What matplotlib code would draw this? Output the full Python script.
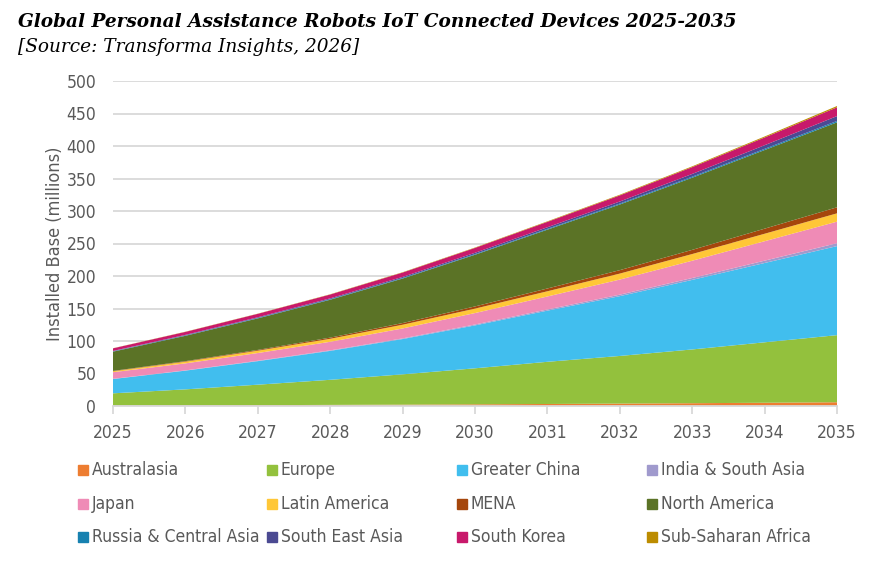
import numpy as np
import matplotlib.pyplot as plt
from matplotlib.patches import Rectangle

years = np.arange(2025, 2036)

australasia = [0.8, 1.0, 1.3, 1.7, 2.1, 2.6, 3.1, 3.7, 4.3, 5.0, 5.8]
europe = [18.7, 24.6, 31.5, 38.6, 46.6, 55.4, 64.9, 73.3, 82.7, 93.0, 103.2]
greater_china = [22.0, 28.8, 36.2, 44.5, 54.3, 66.0, 78.7, 92.0, 107.0, 122.0, 137.0]
india_south_asia = [0.3, 0.4, 0.6, 0.8, 1.0, 1.4, 1.8, 2.3, 2.9, 3.6, 4.5]
japan = [10.2, 10.8, 11.9, 13.2, 15.3, 17.6, 20.0, 23.2, 26.6, 29.9, 33.1]
latin_america = [1.5, 2.6, 3.6, 4.6, 5.7, 6.8, 8.0, 9.2, 10.3, 11.5, 12.8]
mena = [0.5, 0.8, 1.2, 1.8, 2.6, 3.4, 4.3, 5.3, 6.4, 7.8, 9.3]
north_america = [29.6, 39.0, 48.5, 58.3, 68.5, 79.5, 90.5, 101.0, 111.0, 121.0, 130.7]
russia_central_asia = [0.5, 0.6, 0.7, 0.8, 0.9, 1.0, 1.2, 1.4, 1.6, 1.8, 2.1]
south_east_asia = [0.6, 0.8, 1.0, 1.3, 1.6, 2.0, 2.5, 3.2, 4.2, 5.6, 7.5]
south_korea = [4.0, 4.6, 5.3, 5.9, 6.7, 7.5, 8.3, 9.4, 10.5, 11.9, 13.5]
sub_saharan_africa = [0.2, 0.3, 0.3, 0.4, 0.5, 0.6, 0.8, 1.0, 1.2, 1.5, 2.0]

labels = ["Australasia", "Europe", "Greater China", "India & South Asia",
          "Japan", "Latin America", "MENA", "North America",
          "Russia & Central Asia", "South East Asia", "South Korea",
          "Sub-Saharan Africa"]
series = [australasia, europe, greater_china, india_south_asia, japan,
          latin_america, mena, north_america, russia_central_asia,
          south_east_asia, south_korea, sub_saharan_africa]
colors = ["#ED7D31", "#93C13D", "#41BEEE", "#A09ACD", "#EF8BB6", "#FFC737",
          "#A5460C", "#5B7326", "#1781B0", "#4B4A92", "#C8196B", "#BC8C00"]

W, H = 874, 562
grey = "#595959"
font = "DejaVu Sans"

fig = plt.figure(figsize=(W / 100, H / 100), dpi=100)
ax = fig.add_axes([113 / W, 1 - 406 / H, (837 - 113) / W, (406 - 81) / H])

ax.stackplot(years, *series, colors=colors, linewidth=0)

ax.set_xlim(2025, 2035)
ax.set_ylim(0, 500)
ax.set_xticks(years)
ax.set_yticks(np.arange(0, 501, 50))
ax.grid(axis="y", color="#D9D9D9", linewidth=1.3)
ax.set_axisbelow(True)
for s in ["top", "right", "left"]:
    ax.spines[s].set_visible(False)
ax.spines["bottom"].set_color("#D9D9D9")
ax.spines["bottom"].set_linewidth(1.3)
ax.tick_params(axis="x", colors="#D9D9D9", length=6, width=1.3, pad=7,
               labelcolor=grey, labelsize=12.5)
ax.tick_params(axis="y", length=0, pad=12, labelcolor=grey, labelsize=12.5)
for t in ax.get_xticklabels() + ax.get_yticklabels():
    t.set_fontfamily(font)
    t.set_fontstretch("condensed")

ax.set_ylabel("Installed Base (millions)", fontsize=13, color=grey,
              fontfamily=font, fontstretch="condensed")
ax.yaxis.set_label_coords((64 - 113) / (837 - 113), 0.5)

fig.text(18 / W, 1 - 27 / H,
         "Global Personal Assistance Robots IoT Connected Devices 2025-2035",
         fontfamily="DejaVu Serif", fontweight="bold", fontstyle="italic",
         fontsize=13.3, va="baseline")
fig.text(18 / W, 1 - 52 / H, "[Source: Transforma Insights, 2026]",
         fontfamily="DejaVu Serif", fontstyle="italic", fontsize=13.3,
         va="baseline")

# legend laid out in equal columns like the original
col_x = [78, 267, 457, 647]
row_y = [470, 504, 537]
for i, (lab, c) in enumerate(zip(labels, colors)):
    x = col_x[i % 4]
    y = row_y[i // 4]
    fig.patches.append(Rectangle((x / W, 1 - (y + 5) / H), 10 / W, 10 / H,
                                 transform=fig.transFigure, color=c))
    fig.text((x + 14) / W, 1 - y / H, lab, fontsize=12.5, color=grey,
             fontfamily=font, fontstretch="condensed", va="center")

fig.savefig("out.png", dpi=100)
